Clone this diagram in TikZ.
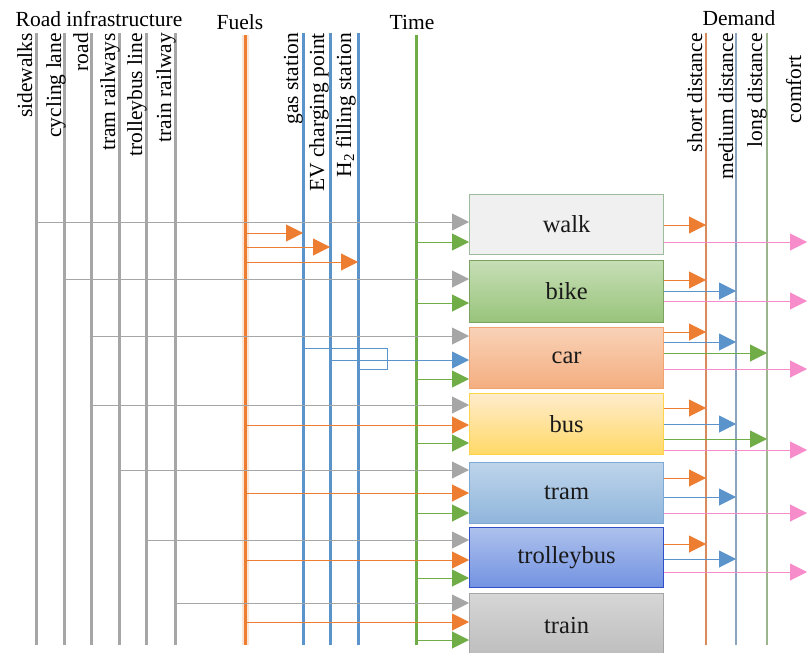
\documentclass[tikz,border=0pt]{standalone}
\usepackage{fontspec}
\setmainfont{Liberation Serif}
\usetikzlibrary{arrows.meta}
\definecolor{cgray}{HTML}{A6A6A6}
\definecolor{corange}{HTML}{ED7D31}
\definecolor{cblue}{HTML}{5B93CB}
\definecolor{cgreen}{HTML}{70AD47}
\definecolor{cpink}{HTML}{F78CCB}
\definecolor{dorange}{HTML}{D98B5B}
\definecolor{dblue}{HTML}{8AA4C0}
\definecolor{dgreen}{HTML}{9CB58C}
\begin{document}
\begin{tikzpicture}[x=1pt,y=-1pt,
  vline/.style={line width=3pt},
  dline/.style={line width=1.3pt},
  conn/.style={line width=1pt,-{Triangle[length=17pt,width=17pt]}},
  plain/.style={line width=1pt},
  vlab/.style={rotate=90,anchor=base east,inner sep=0pt,font=\fontsize{21.5}{24}\selectfont},
  title/.style={anchor=base,inner sep=0pt,font=\fontsize{21.5}{24}\selectfont},
  mode/.style={draw,line width=1.2pt,minimum width=194pt,inner sep=0pt,anchor=north west,
     text=black!90,font=\fontsize{24.5}{28}\selectfont}]
\useasboundingbox (0,0) rectangle (807,653);
\fill[white] (0,0) rectangle (807,653);

% vertical line anchors
\coordinate (sw) at (36,33);
\coordinate (cl) at (64,33);
\coordinate (rd) at (91,33);
\coordinate (tr) at (119,33);
\coordinate (tb) at (146,33);
\coordinate (trn) at (175,33);
\coordinate (fu) at (245,35);
\coordinate (gs) at (303,33);
\coordinate (ev) at (330,33);
\coordinate (h2) at (358,33);
\coordinate (ti) at (416,35);
\coordinate (sd) at (706,33);
\coordinate (md) at (736,33);
\coordinate (ld) at (767,33);
\coordinate (cf) at (807,33);

% vertical lines
\foreach \c in {sw,cl,rd,tr,tb,trn} \draw[vline,cgray] (\c) -- (\c |- 0,645);
\draw[line width=7pt,corange!20] (fu) -- (fu |- 0,645);
\draw[vline,corange] (fu) -- (fu |- 0,645);
\foreach \c in {gs,ev,h2} \draw[vline,cblue] (\c) -- (\c |- 0,645);
\draw[vline,cgreen] (ti) -- (ti |- 0,645);
\draw[dline,dorange] (sd) -- (sd |- 0,645);
\draw[dline,dblue] (md) -- (md |- 0,645);
\draw[dline,dgreen] (ld) -- (ld |- 0,645);

% titles
\node[title] (t1) at (99,27) {Road infrastructure};
\node[title] (t2) at (240,29) {Fuels};
\node[title] (t3) at (412,29) {Time};
\node[title] (t4) at (739,26) {Demand};

% vertical labels
\node[vlab] (l1) at (32,33) {sidewalks};
\node[vlab] (l2) at (61,33) {cycling lane};
\node[vlab] (l3) at (88,33) {road};
\node[vlab] (l4) at (115,33) {tram railways};
\node[vlab] (l5) at (142,33) {trolleybus line};
\node[vlab] (l6) at (171,33) {train railway};
\node[vlab] (l7) at (298,33) {gas station};
\node[vlab] (l8) at (324,33) {EV charging point};
\node[vlab] (l9) at (351,33) {H\textsubscript{2} filling station};
\node[vlab] (l10) at (702,33) {short distance};
\node[vlab] (l11) at (733,33) {medium distance};
\node[vlab] (l12) at (762,33) {long distance};
\node[vlab] (l13) at (801,55) {comfort};

% mode boxes
\node[mode,draw=black!30!green!30!gray!60,fill=black!6,minimum height=60pt] (walk) at (469,194) {walk};
\node[mode,draw=cgreen!80!black!80,top color=cgreen!40!white,bottom color=cgreen!72!white,minimum height=62pt] (bike) at (469,260) {bike};
\node[mode,draw=corange!70,top color=corange!35!white,bottom color=corange!62!white,minimum height=61pt] (car) at (469,327) {car};
\node[mode,draw=orange!50!yellow!70,top color=yellow!25!orange!20!white,bottom color=yellow!50!orange!60!white,minimum height=61pt] (bus) at (469,393) {bus};
\node[mode,draw=cblue!80,top color=cblue!40!white,bottom color=cblue!68!white,minimum height=61pt] (tram) at (469,462) {tram};
\node[mode,draw=blue!40!cblue!90!black,top color=blue!20!cblue!45!white,bottom color=blue!25!cblue!75!white,minimum height=60pt] (trolley) at (469,527) {trolleybus};
\node[mode,draw=black!35,top color=black!16,bottom color=black!26,minimum height=64pt] (train) at (469,593) {train};

% walk
\draw[conn,cgray] (sw |- 0,222) -- (walk.west |- 0,222);
\draw[conn,cgreen] (ti |- 0,242) -- (walk.west |- 0,242);
\draw[conn,corange] (fu |- 0,233) -- (gs |- 0,233);
\draw[conn,corange] (fu |- 0,247) -- (ev |- 0,247);
\draw[conn,corange] (fu |- 0,262) -- (h2 |- 0,262);
% bike
\draw[conn,cgray] (cl |- 0,279) -- (bike.west |- 0,279);
\draw[conn,cgreen] (ti |- 0,303) -- (bike.west |- 0,303);
% car
\draw[conn,cgray] (rd |- 0,336) -- (car.west |- 0,336);
\draw[plain,cblue] (gs |- 0,348) -- (387,348) -- (387,369) -- (h2 |- 0,369);
\draw[conn,cblue] (ev |- 0,360) -- (car.west |- 0,360);
\draw[conn,cgreen] (ti |- 0,379) -- (car.west |- 0,379);
% bus
\draw[conn,cgray] (rd |- 0,405) -- (bus.west |- 0,405);
\draw[conn,corange] (fu |- 0,425) -- (bus.west |- 0,425);
\draw[conn,cgreen] (ti |- 0,443) -- (bus.west |- 0,443);
% tram
\draw[conn,cgray] (tr |- 0,470) -- (tram.west |- 0,470);
\draw[conn,corange] (fu |- 0,493) -- (tram.west |- 0,493);
\draw[conn,cgreen] (ti |- 0,513) -- (tram.west |- 0,513);
% trolleybus
\draw[conn,cgray] (tb |- 0,540) -- (trolley.west |- 0,540);
\draw[conn,corange] (fu |- 0,560) -- (trolley.west |- 0,560);
\draw[conn,cgreen] (ti |- 0,578) -- (trolley.west |- 0,578);
% train
\draw[conn,cgray] (trn |- 0,603) -- (train.west |- 0,603);
\draw[conn,corange] (fu |- 0,622) -- (train.west |- 0,622);
\draw[conn,cgreen] (ti |- 0,640) -- (train.west |- 0,640);

% right side demand arrows
\draw[conn,corange] (walk.east |- 0,225) -- (sd |- 0,225);
\draw[conn,cpink] (walk.east |- 0,242) -- (cf |- 0,242);
\draw[conn,corange] (bike.east |- 0,280) -- (sd |- 0,280);
\draw[conn,cblue] (bike.east |- 0,291) -- (md |- 0,291);
\draw[conn,cpink] (bike.east |- 0,301) -- (cf |- 0,301);
\draw[conn,corange] (car.east |- 0,332) -- (sd |- 0,332);
\draw[conn,cblue] (car.east |- 0,342) -- (md |- 0,342);
\draw[conn,cgreen] (car.east |- 0,353) -- (ld |- 0,353);
\draw[conn,cpink] (car.east |- 0,369) -- (cf |- 0,369);
\draw[conn,corange] (bus.east |- 0,408) -- (sd |- 0,408);
\draw[conn,cblue] (bus.east |- 0,424) -- (md |- 0,424);
\draw[conn,cgreen] (bus.east |- 0,439) -- (ld |- 0,439);
\draw[conn,cpink] (bus.east |- 0,450) -- (cf |- 0,450);
\draw[conn,corange] (tram.east |- 0,478) -- (sd |- 0,478);
\draw[conn,cblue] (tram.east |- 0,497) -- (md |- 0,497);
\draw[conn,cpink] (tram.east |- 0,513) -- (cf |- 0,513);
\draw[conn,corange] (trolley.east |- 0,544) -- (sd |- 0,544);
\draw[conn,cblue] (trolley.east |- 0,559) -- (md |- 0,559);
\draw[conn,cpink] (trolley.east |- 0,572) -- (cf |- 0,572);
\end{tikzpicture}
\end{document}
